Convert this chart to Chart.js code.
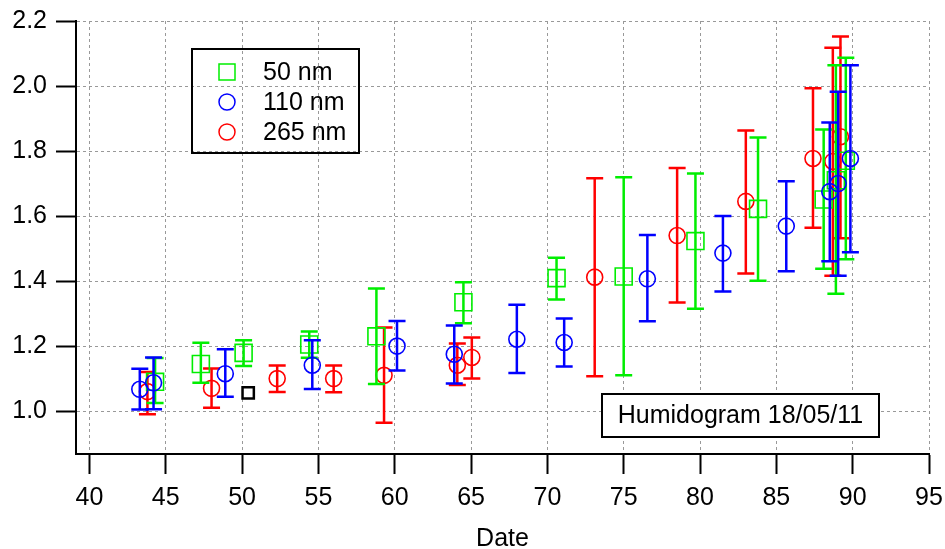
<!DOCTYPE html>
<html>
<head>
<meta charset="utf-8">
<script src="https://cdn.jsdelivr.net/npm/chart.js@4"></script>
<style>
html,body{margin:0;padding:0;background:#fff;}
canvas{display:block;}
</style>
</head>
<body>
<canvas id="chart" width="945" height="549"></canvas>
<script>
// 50 nm (green squares)
const x50  = [44.3, 47.3, 50.1, 54.4, 58.8, 64.5, 70.6, 75.0, 79.7, 83.8, 88.1, 88.9, 89.55];
const y50  = [1.09, 1.145, 1.179, 1.205, 1.23, 1.335, 1.409, 1.414, 1.523, 1.622, 1.651, 1.71, 1.77];
const lo50 = [1.025, 1.087, 1.139, 1.164, 1.083, 1.27, 1.343, 1.11, 1.315, 1.401, 1.438, 1.361, 1.467];
const hi50 = [1.163, 1.21, 1.218, 1.245, 1.377, 1.396, 1.472, 1.719, 1.731, 1.842, 1.866, 2.064, 2.087];

// 110 nm (blue circles)
const x110  = [43.3, 44.2, 48.9, 54.6, 60.15, 63.9, 68.0, 71.1, 76.55, 81.5, 85.65, 88.5, 89.05, 89.85];
const y110  = [1.067, 1.087, 1.115, 1.141, 1.2, 1.175, 1.221, 1.211, 1.407, 1.486, 1.569, 1.675, 1.70, 1.777];
const lo110 = [1.005, 1.006, 1.044, 1.068, 1.125, 1.085, 1.117, 1.137, 1.276, 1.368, 1.43, 1.461, 1.416, 1.489];
const hi110 = [1.13, 1.165, 1.19, 1.218, 1.277, 1.263, 1.327, 1.285, 1.542, 1.60, 1.707, 1.888, 1.982, 2.064];

// 265 nm (red circles)
const x265  = [43.8, 48.0, 52.3, 56.0, 59.3, 64.1, 65.05, 73.1, 78.5, 83.0, 87.4, 88.7, 89.2];
const y265  = [1.06, 1.07, 1.10, 1.10, 1.11, 1.141, 1.165, 1.412, 1.54, 1.645, 1.777, 1.768, 1.844];
const lo265 = [0.99, 1.01, 1.059, 1.058, 0.964, 1.08, 1.10, 1.107, 1.334, 1.423, 1.564, 1.416, 1.532];
const hi265 = [1.12, 1.131, 1.14, 1.14, 1.257, 1.208, 1.226, 1.716, 1.748, 1.863, 1.993, 2.118, 2.152];

// stray black marker
const xBlack = [50.4];
const yBlack = [1.056];

const xTicks = [40, 45, 50, 55, 60, 65, 70, 75, 80, 85, 90, 95];
const yTicks = [1.0, 1.2, 1.4, 1.6, 1.8, 2.0, 2.2];
const annotation = 'Humidogram 18/05/11';
const FONT = '"Liberation Sans", Arial, sans-serif';

const pts = (xs, ys) => xs.map((v, i) => ({ x: v, y: ys[i] }));

const errorBars = {
  id: 'errorBars',
  beforeDatasetDraw(chart, args){
    const ds = chart.data.datasets[args.index];
    if(!ds.errLo) return;
    const { ctx, scales: { x, y } } = chart;
    ctx.save();
    ctx.strokeStyle = ds.borderColor;
    ctx.lineWidth = 2.5;
    ds.data.forEach((p, i) => {
      const px = x.getPixelForValue(p.x);
      const a = y.getPixelForValue(ds.errLo[i]);
      const b = y.getPixelForValue(ds.errHi[i]);
      ctx.beginPath();
      ctx.moveTo(px, a); ctx.lineTo(px, b);
      ctx.moveTo(px - 8.5, a); ctx.lineTo(px + 8.5, a);
      ctx.moveTo(px - 8.5, b); ctx.lineTo(px + 8.5, b);
      ctx.stroke();
    });
    ctx.restore();
  }
};

const boxes = {
  id: 'boxes',
  afterDraw(chart){
    const ctx = chart.ctx;
    ctx.save();
    // legend
    ctx.strokeStyle = '#000';
    ctx.lineWidth = 2;
    ctx.strokeRect(192, 49, 167, 104);
    ctx.font = '25px ' + FONT;
    ctx.textBaseline = 'middle';
    ctx.fillStyle = '#000';
    chart.data.datasets.filter(d => d.label).forEach((d, i) => {
      const cy = 72 + i * 30;
      ctx.strokeStyle = d.borderColor;
      ctx.lineWidth = 1.5;
      ctx.beginPath();
      if(d.pointStyle === 'rect') ctx.rect(227 - 8, cy - 8, 16, 16);
      else ctx.arc(227, cy, 8, 0, Math.PI * 2);
      ctx.stroke();
      ctx.fillText(d.label, 263, cy + 1);
    });
    // annotation
    ctx.strokeStyle = '#000';
    ctx.lineWidth = 2;
    ctx.fillStyle = '#fff';
    ctx.fillRect(602, 394, 277, 43);
    ctx.strokeRect(602, 394, 277, 43);
    ctx.fillStyle = '#000';
    ctx.textAlign = 'center';
    ctx.fillText(annotation, 740.5, 416);
    ctx.restore();
  }
};

new Chart(document.getElementById('chart'), {
  type: 'scatter',
  data: {
    datasets: [
      { label: '50 nm', data: pts(x50, y50), errLo: lo50, errHi: hi50, borderColor: '#00ee00',
        pointStyle: 'rect', pointRadius: 12, order: 1 },
      { label: '110 nm', data: pts(x110, y110), errLo: lo110, errHi: hi110, borderColor: '#0000ff',
        pointStyle: 'circle', pointRadius: 8, order: 0 },
      { label: '265 nm', data: pts(x265, y265), errLo: lo265, errHi: hi265, borderColor: '#ff0000',
        pointStyle: 'circle', pointRadius: 8, order: 2 },
      { data: pts(xBlack, yBlack), borderColor: '#000', pointStyle: 'rect', pointRadius: 8,
        pointBorderWidth: 2.5, order: 3 }
    ].map(d => ({ backgroundColor: 'rgba(0,0,0,0)', pointBorderWidth: 1.6, ...d }))
  },
  options: {
    responsive: false,
    animation: false,
    layout: { padding: { top: 21, right: 16, left: 0, bottom: 0 } },
    plugins: { legend: { display: false }, tooltip: { enabled: false } },
    scales: {
      x: {
        type: 'linear', min: 39.12, max: 95,
        afterFit: s => { s.height = 95; s.paddingLeft = 0; s.paddingRight = 0; },
        afterBuildTicks: s => { s.ticks = xTicks.map(v => ({ value: v })); },
        ticks: { color: '#000', font: { family: FONT, size: 25 }, padding: 9 },
        grid: { color: '#999', lineWidth: 1, tickLength: 20, tickColor: '#000', tickWidth: 2, tickBorderDash: [] },
        border: { color: '#000', width: 2, dash: [3, 3] },
        title: { display: true, text: 'Date', color: '#000', font: { family: FONT, size: 25, lineHeight: 0.8 }, padding: 0 }
      },
      y: {
        type: 'linear', min: 0.868, max: 2.2,
        afterFit: s => { s.width = 76; s.paddingTop = 0; s.paddingBottom = 0; },
        afterBuildTicks: s => { s.ticks = yTicks.map(v => ({ value: v })); },
        ticks: { color: '#000', font: { family: FONT, size: 25 }, padding: 9, callback: v => v.toFixed(1) },
        grid: { color: '#999', lineWidth: 1, tickLength: 20, tickColor: '#000', tickWidth: 2, tickBorderDash: [] },
        border: { color: '#000', width: 2, dash: [3, 3] }
      }
    }
  },
  plugins: [errorBars, boxes]
});
</script>
</body>
</html>
